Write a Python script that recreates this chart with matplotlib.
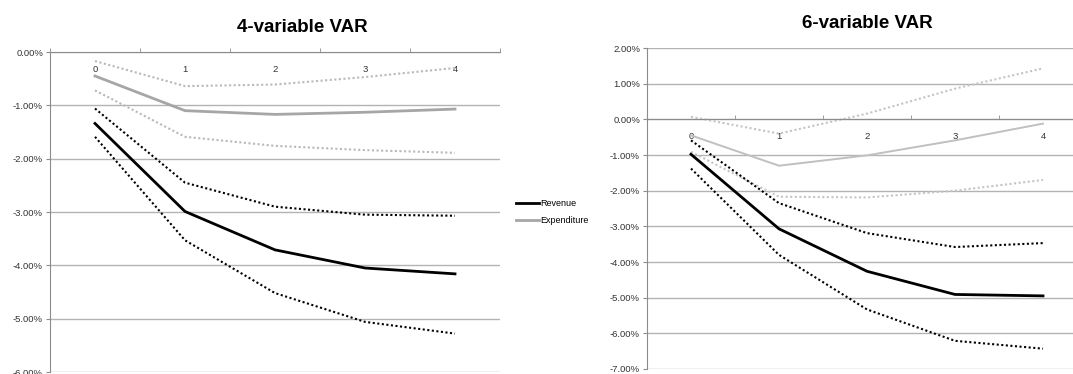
import numpy as np
import matplotlib
matplotlib.use('Agg')
import matplotlib.pyplot as plt
from matplotlib.ticker import FuncFormatter, FixedLocator

# ------------------------------------------------------------------
# Data (impulse responses, in percent)
# ------------------------------------------------------------------
horizons = [0, 1, 2, 3, 4]

# 4-variable VAR
rev4 = [-1.34, -2.99, -3.71, -4.05, -4.16]
rev4_hi = [-1.06, -2.45, -2.90, -3.05, -3.07]
rev4_lo = [-1.59, -3.53, -4.52, -5.06, -5.28]
exp4 = [-0.45, -1.10, -1.17, -1.13, -1.07]
exp4_hi = [-0.17, -0.64, -0.61, -0.47, -0.30]
exp4_lo = [-0.72, -1.59, -1.76, -1.84, -1.89]

# 6-variable VAR
rev6 = [-0.98, -3.07, -4.26, -4.91, -4.95]
rev6_hi = [-0.59, -2.35, -3.19, -3.58, -3.47]
rev6_lo = [-1.38, -3.80, -5.33, -6.21, -6.43]
exp6 = [-0.45, -1.30, -1.01, -0.59, -0.12]
exp6_hi = [0.07, -0.40, 0.16, 0.86, 1.43]
exp6_lo = [-0.91, -2.17, -2.19, -2.00, -1.70]

plt.rcParams['font.family'] = ['Liberation Sans', 'DejaVu Sans']

W, H = 1073, 374
fig = plt.figure(figsize=(W / 100, H / 100), dpi=100)

grid_col = '#b3b3b3'
dot = (0, (1, 1.2))


def style_axes(ax, ymin, ymax):
    ax.set_xlim(-0.5, 4.5)
    ax.set_ylim(ymin, ymax)
    ax.yaxis.set_major_locator(FixedLocator(np.arange(ymin, ymax + 0.5, 1)))
    ax.yaxis.set_major_formatter(FuncFormatter(lambda v, p: f'{v:.2f}%'))
    ax.grid(axis='y', color=grid_col, lw=1.0)
    ax.set_axisbelow(True)
    for s in ['top', 'right']:
        ax.spines[s].set_visible(False)
    ax.spines['left'].set_color('#8c8c8c')
    ax.spines['bottom'].set_color('#8c8c8c')
    ax.spines['bottom'].set_position(('data', 0))
    ax.set_xticks(horizons)
    ax.set_xticklabels([str(h) for h in horizons])
    ax.set_xticks(np.arange(-0.5, 5, 1), minor=True)
    ax.tick_params(axis='x', which='major', length=0, pad=9, labelsize=6.8,
                   labelcolor='#333333')
    ax.tick_params(axis='x', which='minor', length=3, direction='in',
                   color='#8c8c8c')
    ax.tick_params(axis='y', length=3, color='#8c8c8c', labelsize=6.8,
                   labelcolor='#333333', pad=2)


# Left panel
ax1 = fig.add_axes([50 / W, 2 / H, 450 / W, 320 / H])
style_axes(ax1, -6, 0)
ax1.plot(horizons, exp4_hi, color='#b8b8b8', lw=1.5, ls=dot)
ax1.plot(horizons, exp4_lo, color='#b8b8b8', lw=1.5, ls=dot)
ax1.plot(horizons, rev4_hi, color='black', lw=1.5, ls=dot)
ax1.plot(horizons, rev4_lo, color='black', lw=1.5, ls=dot)
l_rev, = ax1.plot(horizons, rev4, color='black', lw=2.0, label='Revenue')
l_exp, = ax1.plot(horizons, exp4, color='#a6a6a6', lw=2.0, label='Expenditure')
fig.text(302 / W, 1 - 28 / H, '4-variable VAR', ha='center', va='center',
         fontsize=13.5, fontweight='bold')

fig.legend(handles=[l_rev, l_exp], loc='center left',
           bbox_to_anchor=(512 / W, 1 - 212 / H), frameon=False,
           fontsize=6.5, handlelength=2.6, handletextpad=0.1,
           labelspacing=0.9, borderaxespad=0)

# Right panel
ax2 = fig.add_axes([647 / W, 5 / H, 440 / W, 321 / H])
style_axes(ax2, -7, 2)
ax2.plot(horizons, exp6_hi, color='#c4c4c4', lw=1.5, ls=dot)
ax2.plot(horizons, exp6_lo, color='#c4c4c4', lw=1.5, ls=dot)
ax2.plot(horizons, rev6_hi, color='black', lw=1.5, ls=dot)
ax2.plot(horizons, rev6_lo, color='black', lw=1.5, ls=dot)
ax2.plot(horizons, rev6, color='black', lw=2.0)
ax2.plot(horizons, exp6, color='#c0c0c0', lw=1.4)
fig.text(867 / W, 1 - 23 / H, '6-variable VAR', ha='center', va='center',
         fontsize=13.5, fontweight='bold')

fig.savefig('out.png', dpi=100)
